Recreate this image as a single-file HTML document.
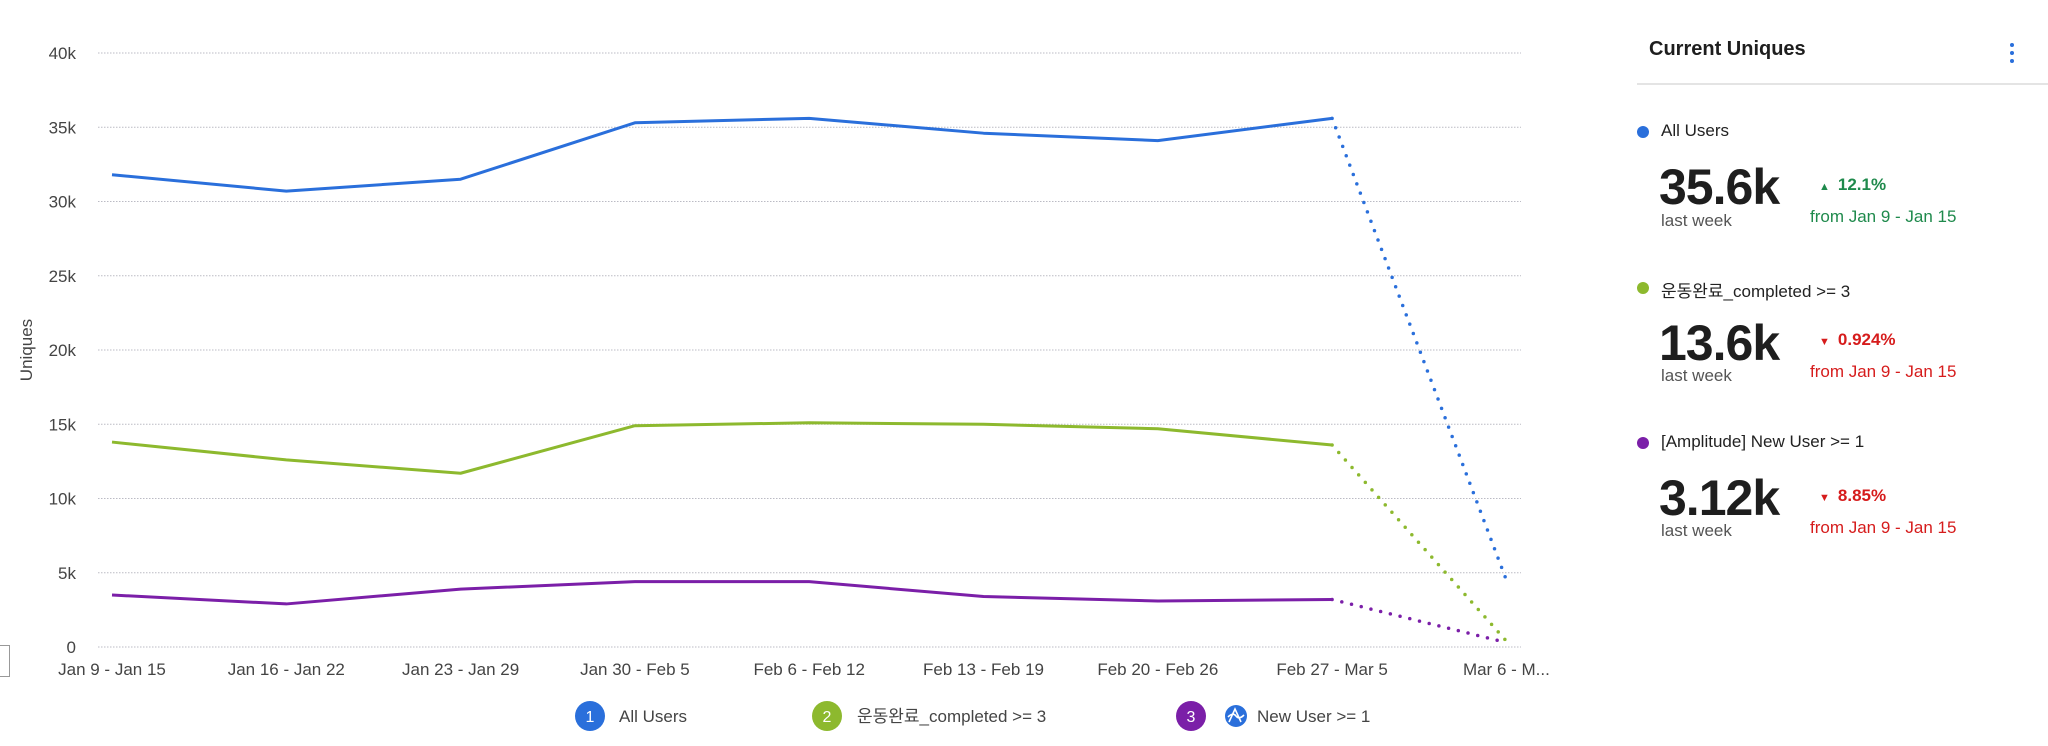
<!DOCTYPE html>
<html><head><meta charset="utf-8"><style>
html,body{margin:0;padding:0;background:#fff;width:2048px;height:746px;overflow:hidden;font-family:"Liberation Sans","Noto Sans CJK KR",sans-serif;}
#chart{position:absolute;left:0;top:0}
.panel{position:absolute;left:1637px;top:0;width:411px;height:746px}
.abs{position:absolute;white-space:nowrap}
</style></head><body>
<svg id="chart" width="1600" height="746"></svg>
<div class="panel">
  <div class="abs" style="left:12px;top:38px;font-size:20px;font-weight:bold;color:#1e1e1e">Current Uniques</div>
  <div class="abs" style="left:372px;top:42px;width:6px;height:24px">
    <div style="position:absolute;left:1px;top:1px;width:4px;height:4px;border-radius:2px;background:#2a6fdb"></div>
    <div style="position:absolute;left:1px;top:9px;width:4px;height:4px;border-radius:2px;background:#2a6fdb"></div>
    <div style="position:absolute;left:1px;top:17px;width:4px;height:4px;border-radius:2px;background:#2a6fdb"></div>
  </div>
  <div class="abs" style="left:0;top:83px;width:411px;height:2px;background:#e4e4e4"></div>

  <div class="abs" style="left:0;top:126px;width:12px;height:12px;border-radius:6px;background:#2a6fdb"></div>
  <div class="abs" style="left:24px;top:121px;font-size:17px;color:#222">All Users</div>
  <div class="abs" style="left:22px;top:158px;font-size:50px;font-weight:bold;color:#1e1e1e;letter-spacing:-1px">35.6k</div>
  <div class="abs" style="left:24px;top:211px;font-size:17px;color:#555">last week</div>
  <div class="abs" style="left:182px;top:175px;font-size:17px;font-weight:bold;color:#1f8a4c"><span style="font-size:11px;margin-right:8px">▲</span>12.1%</div>
  <div class="abs" style="left:173px;top:207px;font-size:17px;color:#1f8a4c">from Jan 9 - Jan 15</div>

  <div class="abs" style="left:0;top:282px;width:12px;height:12px;border-radius:6px;background:#8db92e"></div>
  <div class="abs" style="left:24px;top:277px;font-size:17px;color:#222">운동완료_completed &gt;= 3</div>
  <div class="abs" style="left:22px;top:314px;font-size:50px;font-weight:bold;color:#1e1e1e;letter-spacing:-1px">13.6k</div>
  <div class="abs" style="left:24px;top:366px;font-size:17px;color:#555">last week</div>
  <div class="abs" style="left:182px;top:330px;font-size:17px;font-weight:bold;color:#d61c1c"><span style="font-size:11px;margin-right:8px">▼</span>0.924%</div>
  <div class="abs" style="left:173px;top:362px;font-size:17px;color:#d61c1c">from Jan 9 - Jan 15</div>

  <div class="abs" style="left:0;top:437px;width:12px;height:12px;border-radius:6px;background:#7b1fa8"></div>
  <div class="abs" style="left:24px;top:432px;font-size:17px;color:#222">[Amplitude] New User &gt;= 1</div>
  <div class="abs" style="left:22px;top:469px;font-size:50px;font-weight:bold;color:#1e1e1e;letter-spacing:-1px">3.12k</div>
  <div class="abs" style="left:24px;top:521px;font-size:17px;color:#555">last week</div>
  <div class="abs" style="left:182px;top:486px;font-size:17px;font-weight:bold;color:#d61c1c"><span style="font-size:11px;margin-right:8px">▼</span>8.85%</div>
  <div class="abs" style="left:173px;top:518px;font-size:17px;color:#d61c1c">from Jan 9 - Jan 15</div>
</div>
<div class="abs" style="left:-2px;top:645px;width:10px;height:30px;border:1px solid #999;background:#fff"></div>
<script>
const categories = ["Jan 9 - Jan 15","Jan 16 - Jan 22","Jan 23 - Jan 29","Jan 30 - Feb 5","Feb 6 - Feb 12","Feb 13 - Feb 19","Feb 20 - Feb 26","Feb 27 - Mar 5","Mar 6 - M..."];
const allUsers = [31800,30700,31500,35300,35600,34600,34100,35600,4500];
const completed = [13800,12600,11700,14900,15100,15000,14700,13600,400];
const newUsers = [3500,2900,3900,4400,4400,3400,3100,3200,300];
const yTicks = [0,5000,10000,15000,20000,25000,30000,35000,40000];
const yTickLabels = ["0","5k","10k","15k","20k","25k","30k","35k","40k"];
const legendLabels = ["All Users","운동완료_completed >= 3","New User >= 1"];

const svg = document.getElementById('chart');
const NS = 'http://www.w3.org/2000/svg';
const X0 = 112, XSTEP = 174.3, Y0 = 647, YTOP = 53, YMAX = 40000;
function xs(i){ return X0 + i*XSTEP; }
function ys(v){ return Y0 - v/YMAX*(Y0-YTOP); }
function mk(tag, attrs, parent){ const e=document.createElementNS(NS,tag); for(const k in attrs) e.setAttribute(k,attrs[k]); (parent||svg).appendChild(e); return e; }

yTicks.forEach((t,i)=>{
  const g = mk('line',{x1:98,x2:1521,y1:ys(t),y2:ys(t),stroke:'#bbbbc4','stroke-width':1,'stroke-dasharray':'1.5 1.5'});
  
  
  const tx = mk('text',{x:76,y:ys(t)+6,'text-anchor':'end','font-size':17,fill:'#444','font-family':'Liberation Sans, sans-serif'});
  tx.textContent = yTickLabels[i];
  
  
});
categories.forEach((c,i)=>{
  const tx = mk('text',{x:xs(i),y:675,'text-anchor':'middle','font-size':17,fill:'#444','font-family':'Liberation Sans, sans-serif'});
  tx.textContent = c;
  
  
});
const yt = mk('text',{x:0,y:0,transform:'translate(32,350) rotate(-90)','text-anchor':'middle','font-size':17,fill:'#444','font-family':'Liberation Sans, sans-serif'});
yt.textContent='Uniques';



function series(vals, color, name){
  const n = vals.length;
  const solid = vals.slice(0,n-1).map((v,i)=>xs(i)+','+ys(v)).join(' ');
  const p = mk('polyline',{points:solid,fill:'none',stroke:color,'stroke-width':3,'stroke-linejoin':'round'});
  
  
  const d = mk('line',{x1:xs(n-2),y1:ys(vals[n-2]),x2:xs(n-1),y2:ys(vals[n-1]),stroke:color,'stroke-width':3.5,'stroke-dasharray':'0 10','stroke-linecap':'round'});
  
  
}
series(allUsers,'#2a6fdb','all-users');
series(completed,'#8db92e','completed');
series(newUsers,'#7b1fa8','new-user');

// legend
const lg = [[590,'#2a6fdb','1',619,legendLabels[0]],[827,'#8db92e','2',857,legendLabels[1]],[1191,'#7b1fa8','3',null,null]];
lg.forEach(l=>{
  const c = mk('circle',{cx:l[0],cy:716,r:15,fill:l[1]});
  
  
  const t = mk('text',{x:l[0],y:722,'text-anchor':'middle','font-size':16,fill:'#fff','font-family':'Liberation Sans, sans-serif'});
  t.textContent=l[2];
  
  
  if(l[3]){
    const tt = mk('text',{x:l[3],y:722,'font-size':17,fill:'#444','font-family':'Liberation Sans, Noto Sans CJK KR, sans-serif'});
    tt.textContent=l[4];
    
    
  }
});
const ic = mk('circle',{cx:1236,cy:716,r:11,fill:'#2a6fdb'});


const ip = mk('path',{d:'M1229 722 L1235 709 L1241 722 M1228 717 Q1233 712 1236 716 Q1239 720 1244 715',fill:'none',stroke:'#fff','stroke-width':1.6});


const lt = mk('text',{x:1257,y:722,'font-size':17,fill:'#444','font-family':'Liberation Sans, sans-serif'});
lt.textContent=legendLabels[2];


</script>
</body></html>
